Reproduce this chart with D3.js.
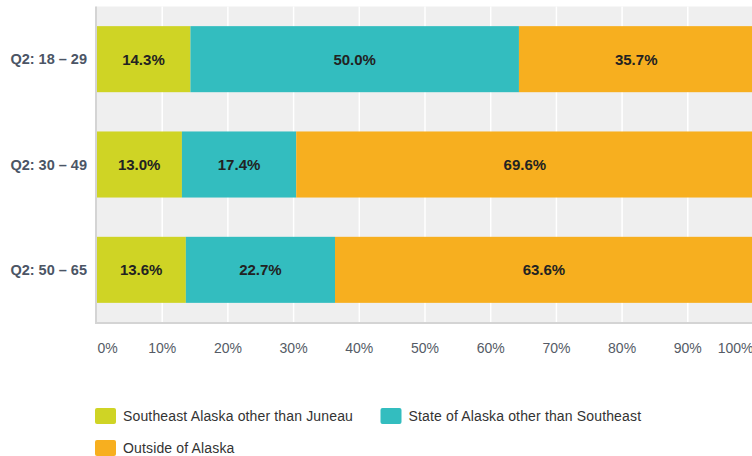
<!DOCTYPE html>
<html lang="en">
<head>
    <meta charset="UTF-8">
    <title>Where respondents lived</title>
    <style>
        body { margin: 0; background: #fff; }
        svg { display: block; font-family: "Liberation Sans", Arial, sans-serif; }
    </style>
</head>
<body>
    <script src="https://cdn.jsdelivr.net/npm/d3@7/dist/d3.min.js"></script>
    <script type="text/javascript">
        // data
        var categories = ["Q2: 18 \u2013 29", "Q2: 30 \u2013 49", "Q2: 50 \u2013 65"];
        var seriesNames = ["Southeast Alaska other than Juneau", "State of Alaska other than Southeast", "Outside of Alaska"];
        var southeast = [14.3, 13.0, 13.6];
        var stateOther = [50.0, 17.4, 22.7];
        var outside = [35.7, 69.6, 63.6];
        var tickValues = [0, 10, 20, 30, 40, 50, 60, 70, 80, 90, 100];
        var colors = ["#cfd425", "#33bdbf", "#f7af1f"];

        var w = 752, h = 456;
        var plotLeft = 96.5, plotTop = 6.5, plotW = 657, plotH = 316;

        var svg = d3.select("body").append("svg").attr("width", w).attr("height", h);

        var x = d3.scaleLinear().domain([0, 100]).range([plotLeft, plotLeft + plotW]);
        var y = d3.scaleBand().domain(categories).range([plotTop, plotTop + plotH])
            .paddingInner(0.373).paddingOuter(0.1865);

        // plot background
        svg.append("rect")
            .attr("x", plotLeft).attr("y", plotTop)
            .attr("width", plotW).attr("height", plotH)
            .attr("fill", "#efefef");

        // gridlines
        svg.selectAll("line.grid")
            .data(tickValues.slice(1))
            .enter()
            .append("line")
            .attr("class", "grid")
            .attr("x1", function(d){ return x(d); })
            .attr("x2", function(d){ return x(d); })
            .attr("y1", plotTop).attr("y2", plotTop + plotH)
            .attr("stroke", "#fff")
            .attr("stroke-width", 1.5);

        // stack rows
        var rows = categories.map(function(c, i){
            return { cat: c, values: [southeast[i], stateOther[i], outside[i]] };
        });

        rows.forEach(function(r){
            var acc = 0;
            var segs = r.values.map(function(v, k){
                var s = { start: acc, end: acc + v, v: v, k: k };
                acc += v;
                return s;
            });
            var g = svg.append("g");
            g.selectAll("rect")
                .data(segs)
                .enter()
                .append("rect")
                .attr("x", function(d){ return x(d.start); })
                .attr("y", y(r.cat))
                .attr("width", function(d){ return x(d.end) - x(d.start); })
                .attr("height", y.bandwidth())
                .attr("fill", function(d){ return colors[d.k]; });
            g.selectAll("text")
                .data(segs)
                .enter()
                .append("text")
                .text(function(d){ return d.v.toFixed(1) + "%"; })
                .attr("x", function(d){ return (x(d.start) + x(d.end)) / 2; })
                .attr("y", y(r.cat) + y.bandwidth() / 2 + 5.5)
                .attr("text-anchor", "middle")
                .attr("font-size", "15px")
                .attr("font-weight", "bold")
                .attr("fill", "#222");
        });

        // axis lines
        svg.append("line")
            .attr("x1", plotLeft - 0.5).attr("x2", plotLeft - 0.5)
            .attr("y1", plotTop).attr("y2", plotTop + plotH + 1)
            .attr("stroke", "#d4d4d4").attr("stroke-width", 2);
        svg.append("line")
            .attr("x1", plotLeft - 1.5).attr("x2", plotLeft + plotW)
            .attr("y1", plotTop + plotH + 0.5).attr("y2", plotTop + plotH + 0.5)
            .attr("stroke", "#d4d4d4").attr("stroke-width", 2);

        // category labels
        svg.selectAll("text.cat")
            .data(categories)
            .enter()
            .append("text")
            .attr("class", "cat")
            .text(function(d){ return d; })
            .attr("x", 87)
            .attr("y", function(d){ return y(d) + y.bandwidth() / 2 + 5; })
            .attr("text-anchor", "end")
            .attr("font-size", "14.5px")
            .attr("font-weight", "bold")
            .attr("fill", "#4b5565");

        // x tick labels
        svg.selectAll("text.tick")
            .data(tickValues)
            .enter()
            .append("text")
            .attr("class", "tick")
            .text(function(d){ return d + "%"; })
            .attr("x", function(d){ return d === 0 ? x(d) + 1 : x(d); })
            .attr("y", 353)
            .attr("text-anchor", function(d){
                return d === 0 ? "start" : (d === 100 ? "end" : "middle");
            })
            .attr("font-size", "14px")
            .attr("fill", "#555b66");

        // legend
        var legendPos = [[95, 408], [380.5, 408], [95, 440]];
        var lg = svg.selectAll("g.legend")
            .data(seriesNames)
            .enter()
            .append("g")
            .attr("class", "legend")
            .attr("transform", function(d, i){ return "translate(" + legendPos[i][0] + "," + legendPos[i][1] + ")"; });
        lg.append("rect")
            .attr("width", 21).attr("height", 16)
            .attr("rx", 2)
            .attr("fill", function(d, i){ return colors[i]; });
        lg.append("text")
            .text(function(d){ return d; })
            .attr("x", 28)
            .attr("y", 13)
            .attr("font-size", "14px")
            .attr("letter-spacing", "0.15px")
            .attr("fill", "#333");
    </script>
</body>
</html>
